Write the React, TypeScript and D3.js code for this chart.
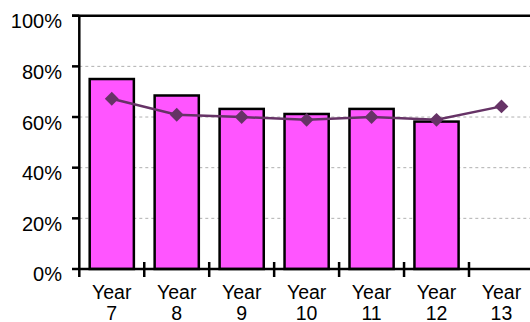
import React from "react";
import * as d3 from "d3";

const categories = ["Year 7", "Year 8", "Year 9", "Year 10", "Year 11", "Year 12", "Year 13"];
const barValues: (number | null)[] = [75, 68.5, 63.2, 61.2, 63.2, 58.2, null];
const lineValues = [67.2, 60.9, 60.0, 58.9, 60.0, 58.9, 64.2];
const yTicks = [0, 20, 40, 60, 80, 100];

const W = 530;
const H = 322;
const left = 79.3;
const step = 64.95;
const top = 15.7;
const bottom = 269;
const FONT = "'Liberation Sans', Arial, sans-serif";

export default function App() {
  const x = d3.scaleBand<string>().domain(categories).range([left, left + step * categories.length]).padding(0);
  const y = d3.scaleLinear().domain([0, 100]).range([bottom, top]);
  const bw = x.bandwidth() * 0.68;
  const line = d3
    .line<number>()
    .x((_, i) => (x(categories[i]) as number) + x.bandwidth() / 2)
    .y((d) => y(d));
  const diamond = d3.symbol().type(d3.symbolSquare).size(96)();

  return (
    <svg width={W} height={H} style={{ position: "absolute", left: 0, top: 0, fontFamily: FONT }}>
      {/* gridlines */}
      {yTicks.filter((t) => t > 0 && t < 100).map((t) => (
        <line key={"g" + t} x1={left} x2={W} y1={y(t)} y2={y(t)} stroke="#b0b0b0" strokeWidth={1} strokeDasharray="3,3" />
      ))}
      {/* bars */}
      {barValues.map((v, i) =>
        v == null ? null : (
          <rect
            key={"b" + i}
            x={(x(categories[i]) as number) + (x.bandwidth() - bw) / 2}
            y={y(v)}
            width={bw}
            height={bottom - y(v)}
            fill="#FF55FF"
            stroke="#000"
            strokeWidth={2.5}
          />
        )
      )}
      {/* top border */}
      <line x1={72} x2={W} y1={top} y2={top} stroke="#000" strokeWidth={2.5} />
      {/* y axis */}
      <line x1={left} x2={left} y1={top} y2={277} stroke="#000" strokeWidth={2.5} />
      {yTicks.map((t) => (
        <g key={"y" + t}>
          <line x1={72} x2={left} y1={y(t)} y2={y(t)} stroke="#000" strokeWidth={2.5} />
          <text x={62} y={y(t)} dy="0.36em" dominantBaseline="middle" textAnchor="end" fontSize={20} fill="#000">
            {t}%
          </text>
        </g>
      ))}
      {/* x axis */}
      <line x1={left} x2={W} y1={bottom} y2={bottom} stroke="#000" strokeWidth={2.5} />
      {categories.map((c, i) =>
        i === 0 ? null : (
          <line key={"t" + c} x1={x(c) as number} x2={x(c) as number} y1={262} y2={277} stroke="#000" strokeWidth={2.5} />
        )
      )}
      {categories.map((c) => {
        const cx = (x(c) as number) + x.bandwidth() / 2;
        const [a, b] = c.split(" ");
        return (
          <text key={"l" + c} textAnchor="middle" fontSize={19.5} fill="#000">
            <tspan x={cx} y={299}>{a}</tspan>
            <tspan x={cx} y={319.5}>{b}</tspan>
          </text>
        );
      })}
      {/* line */}
      <path d={line(lineValues) || ""} fill="none" stroke="#663366" strokeWidth={2.5} />
      {lineValues.map((v, i) => (
        <path
          key={"m" + i}
          d={diamond || ""}
          transform={`translate(${(x(categories[i]) as number) + x.bandwidth() / 2},${y(v)}) rotate(45)`}
          fill="#663366"
        />
      ))}
    </svg>
  );
}
